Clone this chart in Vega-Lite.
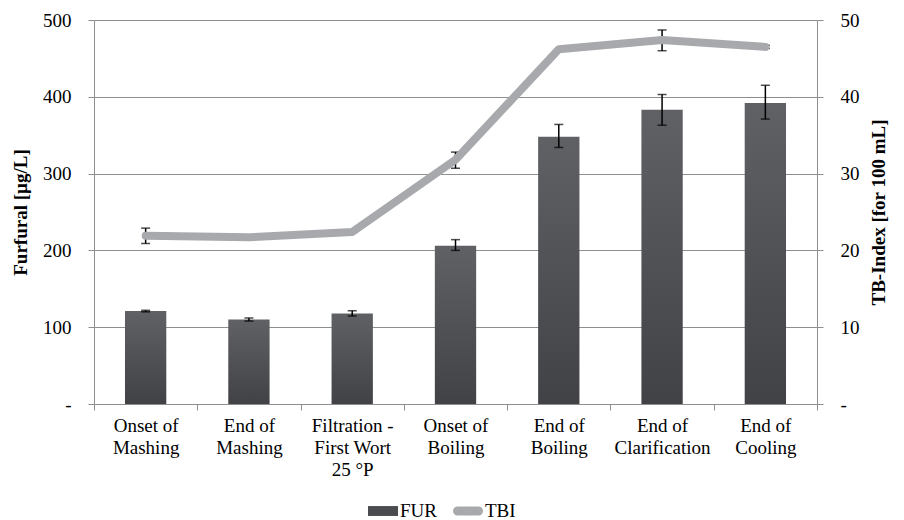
{
  "$schema": "https://vega.github.io/schema/vega-lite/v6.json",
  "width": 723,
  "height": 384,
  "autosize": "none",
  "padding": {"left": 94, "top": 20, "right": 87, "bottom": 116},
  "background": "white",
  "config": {
    "font": "Liberation Serif",
    "view": {"stroke": null},
    "axis": {
      "domainColor": "#8e8e8e",
      "gridColor": "#8e8e8e",
      "tickColor": "#8e8e8e",
      "labelColor": "#000000",
      "titleColor": "#000000",
      "labelFontSize": 19,
      "titleFontSize": 19,
      "titleFontWeight": "bold",
      "labelFont": "Liberation Serif",
      "titleFont": "Liberation Serif",
      "tickSize": 6
    },
    "legend": {"labelFont": "Liberation Serif", "labelColor": "#000000"}
  },
  "data": {
    "values": [
      {"stage": "Onset of|Mashing", "FUR": 121, "FUR_lo": 120, "FUR_hi": 122, "TBI": 21.9, "TBI_lo": 20.9, "TBI_hi": 22.9, "s": "TBI"},
      {"stage": "End of|Mashing", "FUR": 110, "FUR_lo": 108, "FUR_hi": 112, "TBI": 21.7, "TBI_lo": null, "TBI_hi": null, "s": "TBI"},
      {"stage": "Filtration -|First Wort|25 °P", "FUR": 118, "FUR_lo": 114.5, "FUR_hi": 121.5, "TBI": 22.4, "TBI_lo": null, "TBI_hi": null, "s": "TBI"},
      {"stage": "Onset of|Boiling", "FUR": 206, "FUR_lo": 200, "FUR_hi": 214, "TBI": 31.8, "TBI_lo": 30.7, "TBI_hi": 32.8, "s": "TBI"},
      {"stage": "End of|Boiling", "FUR": 348, "FUR_lo": 334, "FUR_hi": 364, "TBI": 46.2, "TBI_lo": null, "TBI_hi": null, "s": "TBI"},
      {"stage": "End of|Clarification", "FUR": 383, "FUR_lo": 363, "FUR_hi": 403, "TBI": 47.4, "TBI_lo": 46.0, "TBI_hi": 48.7, "s": "TBI"},
      {"stage": "End of|Cooling", "FUR": 392, "FUR_lo": 371, "FUR_hi": 415, "TBI": 46.5, "TBI_lo": 46.3, "TBI_hi": 46.7, "s": "TBI"}
    ]
  },
  "encoding": {
    "x": {
      "field": "stage",
      "type": "nominal",
      "sort": null,
      "scale": {"paddingInner": 0, "paddingOuter": 0},
      "axis": {
        "title": null,
        "labelAngle": 0,
        "labelExpr": "split(datum.label, '|')",
        "labelLineHeight": 22,
        "labelPadding": 6,
        "tickBand": "extent",
        "domainColor": "#8e8e8e"
      }
    }
  },
  "layer": [
    {
      "layer": [
        {
          "mark": {
            "type": "bar",
            "width": {"band": 0.4},
            "fill": {
              "gradient": "linear",
              "x1": 0, "y1": 0, "x2": 0, "y2": 1,
              "stops": [
                {"offset": 0, "color": "#606165"},
                {"offset": 1, "color": "#414246"}
              ]
            }
          },
          "encoding": {
            "y": {
              "field": "FUR",
              "type": "quantitative",
              "scale": {"domain": [0, 500], "nice": false},
              "axis": {
                "orient": "left",
                "title": "Furfural [µg/L]",
                "values": [0, 100, 200, 300, 400, 500],
                "labelExpr": "datum.value == 0 ? '-' : datum.label",
                "grid": true,
                "labelPadding": 17,
                "titlePadding": 12
              }
            }
          }
        },
        {
          "mark": {"type": "rule", "color": "#000000", "strokeWidth": 1.5},
          "encoding": {
            "y": {"field": "FUR_lo", "type": "quantitative"},
            "y2": {"field": "FUR_hi"}
          }
        },
        {
          "mark": {"type": "tick", "color": "#000000", "size": 9, "thickness": 1.5},
          "encoding": {"y": {"field": "FUR_lo", "type": "quantitative"}}
        },
        {
          "mark": {"type": "tick", "color": "#000000", "size": 9, "thickness": 1.5},
          "encoding": {"y": {"field": "FUR_hi", "type": "quantitative"}}
        }
      ]
    },
    {
      "layer": [
        {
          "mark": {"type": "rule", "color": "#000000", "strokeWidth": 1.5},
          "encoding": {
            "y": {
              "field": "TBI_lo",
              "type": "quantitative",
              "scale": {"domain": [0, 50], "nice": false},
              "axis": {
                "orient": "right",
                "title": "TB-Index [for 100 mL]",
                "values": [0, 10, 20, 30, 40, 50],
                "labelExpr": "datum.value == 0 ? '-' : datum.label",
                "grid": false,
                "labelPadding": 17,
                "titlePadding": 10,
                "titleAngle": 270,
                "titleBaseline": "top"
              }
            },
            "y2": {"field": "TBI_hi"}
          }
        },
        {
          "mark": {"type": "tick", "color": "#000000", "size": 9, "thickness": 1.5},
          "encoding": {"y": {"field": "TBI_lo", "type": "quantitative"}}
        },
        {
          "mark": {"type": "tick", "color": "#000000", "size": 9, "thickness": 1.5},
          "encoding": {"y": {"field": "TBI_hi", "type": "quantitative"}}
        },
        {
          "mark": {"type": "line", "strokeWidth": 8, "strokeCap": "round", "strokeJoin": "round"},
          "encoding": {
            "y": {"field": "TBI", "type": "quantitative"},
            "color": {
              "field": "s",
              "type": "nominal",
              "scale": {"domain": ["FUR", "TBI"], "range": ["#4b4c50", "#a7a9ac"]},
              "legend": {
                "orient": "none",
                "legendX": 274,
                "legendY": 476,
                "direction": "horizontal",
                "title": null,
                "labelFontSize": 19,
                "symbolSize": 900,
                "symbolType": "stroke",
                "symbolStrokeWidth": 9,
                "labelOffset": 2,
                "columnPadding": 16,
                "encode": {
                  "symbols": {
                    "update": {
                      "shape": {"signal": "datum.value == 'FUR' ? 'M-1,-0.33H1V0.33H-1Z' : 'M-0.7,-0.3H0.7A0.3,0.3 0 0 1 0.7,0.3H-0.7A0.3,0.3 0 0 1 -0.7,-0.3Z'"},
                      "fill": {"signal": "datum.value == 'FUR' ? '#4b4c50' : '#a7a9ac'"},
                      "stroke": {"value": "transparent"},
                      "strokeWidth": {"value": 0}
                    }
                  }
                }
              }
            }
          }
        }
      ]
    }
  ],
  "resolve": {"scale": {"y": "independent"}}
}
